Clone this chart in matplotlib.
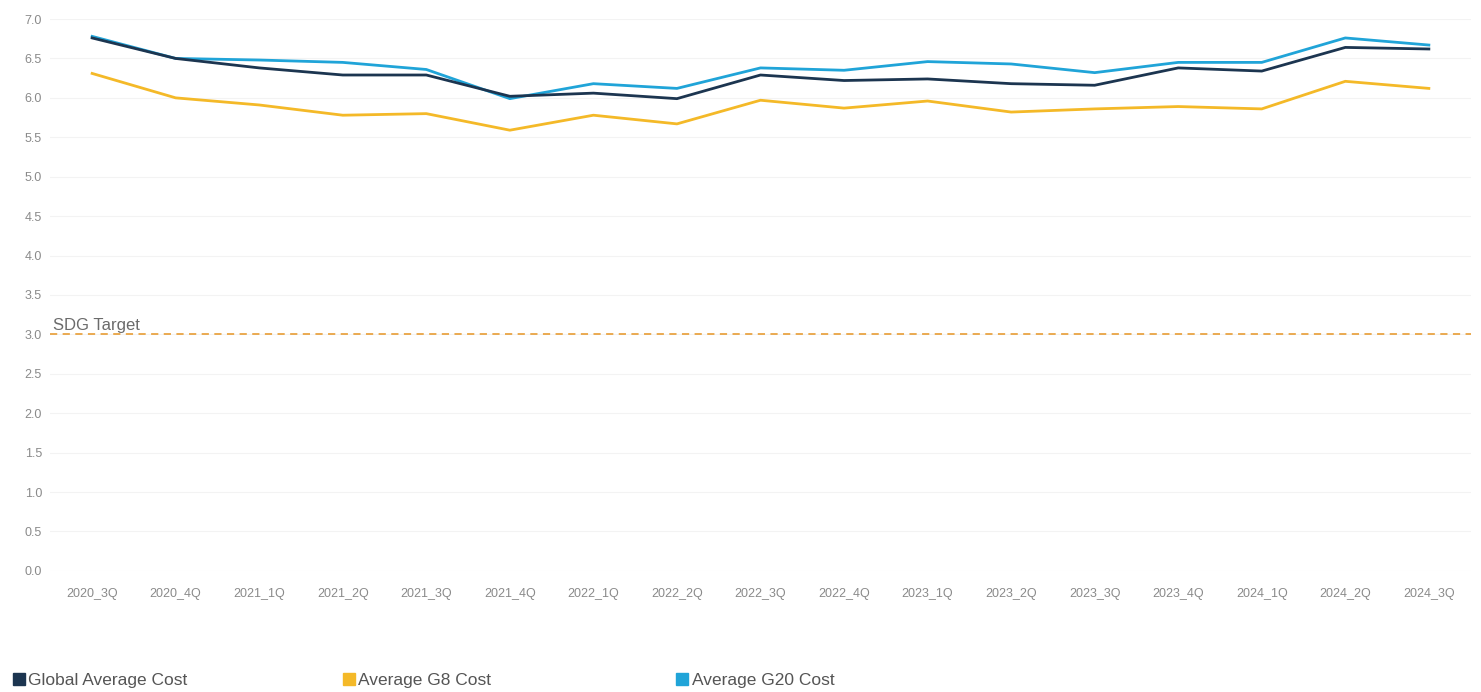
import matplotlib
matplotlib.use("Agg")
import matplotlib.pyplot as plt
from matplotlib.lines import Line2D

# Данные
quarters = ["2020_3Q", "2020_4Q", "2021_1Q", "2021_2Q", "2021_3Q", "2021_4Q",
            "2022_1Q", "2022_2Q", "2022_3Q", "2022_4Q", "2023_1Q", "2023_2Q",
            "2023_3Q", "2023_4Q", "2024_1Q", "2024_2Q", "2024_3Q"]
global_avg = [6.76, 6.50, 6.38, 6.29, 6.29, 6.02, 6.06, 5.99, 6.29, 6.22,
              6.24, 6.18, 6.16, 6.38, 6.34, 6.64, 6.62]
g8_avg = [6.31, 6.00, 5.91, 5.78, 5.80, 5.59, 5.78, 5.67, 5.97, 5.87,
          5.96, 5.82, 5.86, 5.89, 5.86, 6.21, 6.12]
g20_avg = [6.78, 6.50, 6.48, 6.45, 6.36, 5.99, 6.18, 6.12, 6.38, 6.35,
           6.46, 6.43, 6.32, 6.45, 6.45, 6.76, 6.67]
sdg_target = 3.0
yticks = [0.0, 0.5, 1.0, 1.5, 2.0, 2.5, 3.0, 3.5, 4.0, 4.5, 5.0, 5.5, 6.0, 6.5, 7.0]

c_global = "#1c3550"
c_g8 = "#f4b928"
c_g20 = "#20a4d8"
c_sdg = "#e9a443"

plt.rcParams["font.family"] = ["Liberation Sans Narrow", "Liberation Sans", "DejaVu Sans"]

fig = plt.figure(figsize=(14.81, 6.92), dpi=100)
ax = fig.add_axes([0.034, 0.175, 0.959, 0.7975])

x = range(len(quarters))
ax.plot(x, g8_avg, color=c_g8, lw=2)
ax.plot(x, g20_avg, color=c_g20, lw=2)
ax.plot(x, global_avg, color=c_global, lw=2)

ax.axhline(sdg_target, color=c_sdg, lw=1.3, ls=(0, (4, 3)))
ax.text(-0.47, sdg_target + 0.02, "SDG Target", color="#6b6b6b", fontsize=12,
        family=["Liberation Sans", "DejaVu Sans"], va="bottom", ha="left")

ax.set_xlim(-0.5, len(quarters) - 0.5)
ax.set_ylim(0, 7.0)
ax.set_yticks(yticks)
ax.set_yticklabels([f"{v:.1f}" for v in yticks])
ax.set_xticks(list(x))
ax.set_xticklabels(quarters)
ax.tick_params(axis="both", length=0, colors="#8a8a8a", labelsize=9)
ax.tick_params(axis="x", pad=12)
ax.tick_params(axis="y", pad=6)
ax.grid(axis="y", color="#f3f3f3", lw=0.8)
ax.set_axisbelow(True)
for s in ax.spines.values():
    s.set_visible(False)

handles = [Line2D([], [], marker="s", ls="", color=c, markersize=9)
           for c in (c_global, c_g8, c_g20)]
labels = ["Global Average Cost", "Average G8 Cost", "Average G20 Cost"]
for h, lab, xpos in zip(handles, labels, [0.009, 0.232, 0.457]):
    fig.legend([h], [lab], loc="center left", bbox_to_anchor=(xpos, 0.017),
               frameon=False, handlelength=0.6, handletextpad=0.25,
               prop={"family": ["Liberation Sans", "DejaVu Sans"], "size": 12.5},
               labelcolor="#555555", borderaxespad=0, borderpad=0)

fig.savefig("out.png", dpi=100)
